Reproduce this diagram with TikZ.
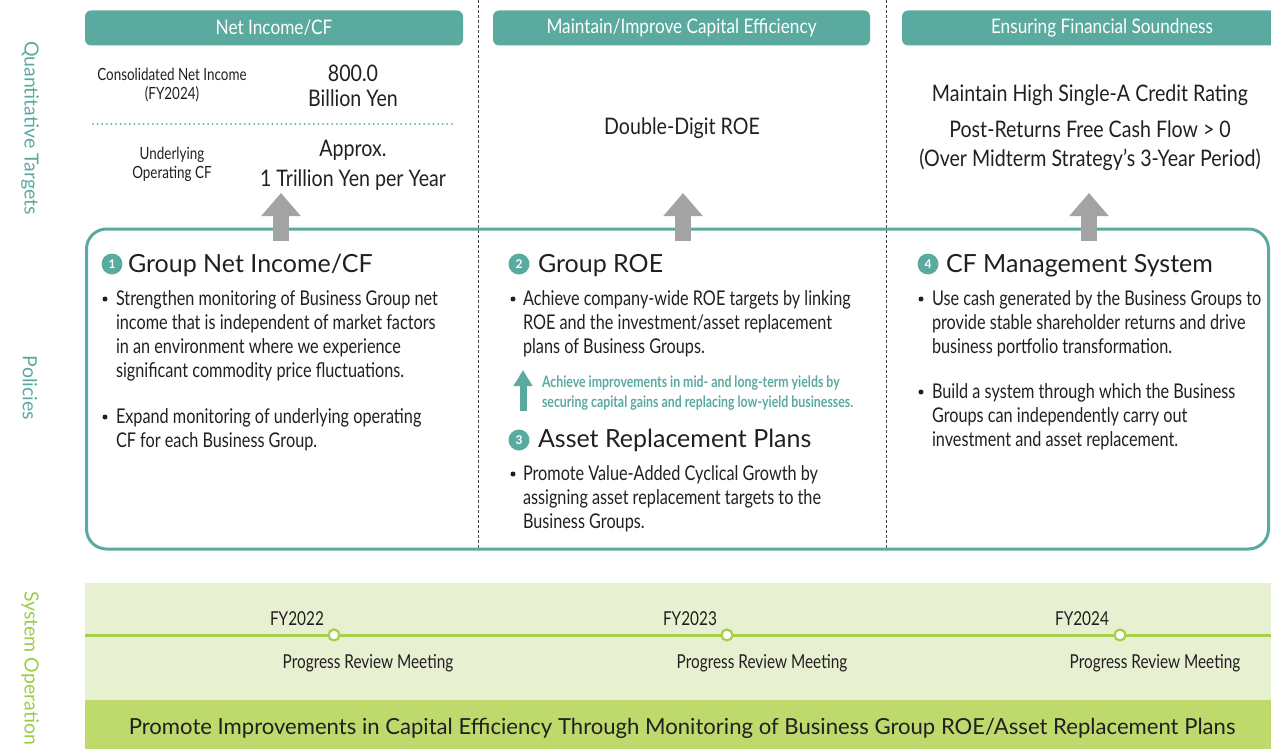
\documentclass[tikz,border=0pt]{standalone}
\usepackage{fontspec}
\setmainfont{Lato}
\newfontfamily\condfont[FakeStretch=0.80]{Lato}
\newfontfamily\semifont[FakeStretch=0.86]{Lato}
\newfontfamily\boldcond[FakeStretch=0.78]{Lato Bold}
\usetikzlibrary{arrows.meta}
\definecolor{tealc}{HTML}{5BAAA0}
\definecolor{txt}{HTML}{231F20}
\definecolor{gry}{HTML}{A3A3A3}
\definecolor{lgreen}{HTML}{E8F0D2}
\definecolor{dgreen}{HTML}{BED96C}
\definecolor{lineg}{HTML}{A8CF4C}
\definecolor{labg}{HTML}{9DCB4B}
\definecolor{dashc}{HTML}{444444}
\begin{document}
\begin{tikzpicture}[x=1pt,y=-1pt,
  every node/.style={inner sep=0pt, outer sep=0pt, text=txt},
  hdr/.style={fill=tealc, rounded corners=6pt, minimum height=35pt, text=white, font=\semifont\fontsize{20}{22}\selectfont},
  sidelab/.style={rotate=-90, font=\fontsize{19.5}{22}\selectfont},
  small/.style={font=\condfont\fontsize{16.8}{18}\selectfont},
  val/.style={font=\semifont\fontsize{22.8}{26}\selectfont},
  ttl/.style={font=\fontsize{25}{28}\selectfont, anchor=base west},
  body/.style={font=\condfont\fontsize{20.3}{24}\selectfont, align=left, anchor=base west},
  dotb/.style={circle, fill=txt, minimum size=5pt},
  numc/.style={circle, fill=tealc, minimum size=21pt, text=white, font=\bfseries\fontsize{12}{12}\selectfont},
  grayarrow/.style={gry, line width=16pt, -{Triangle[width=38pt,length=23pt]}},
  tealarrow/.style={tealc, line width=7pt, -{Triangle[width=18pt,length=16pt]}},
  dashline/.style={dashc, line width=1pt, dash pattern=on 3pt off 2pt},
  tlabel/.style={font=\condfont\fontsize{19.2}{22}\selectfont, anchor=base},
  tcirc/.style={circle, draw=lineg, line width=2.2pt, fill=white, minimum size=11pt}
]
\useasboundingbox (0,0) rectangle (1271,749);
\clip (0,0) rectangle (1271,749);

% side labels
\node[sidelab, text=tealc] (lq) at (30,128) {Quantitative Targets};
\node[sidelab, text=tealc] (lp) at (30,388) {Policies};
\node[sidelab, text=labg] (ls) at (30,668) {System Operation};

% dashed separators
\coordinate (d1t) at (478,0); \coordinate (d1b) at (478,550);
\coordinate (d2t) at (886,0); \coordinate (d2b) at (886,550);
\draw[dashline] (d1t) -- (d1b);
\draw[dashline] (d2t) -- (d2b);

% headers
\node[hdr, minimum width=378pt] (h1) at (274,28) {Net Income/CF};
\node[hdr, minimum width=377pt] (h2) at (681.5,28) {Maintain/Improve Capital Efficiency};
\node[hdr, minimum width=400pt] (h3) at (1102,28) {Ensuring Financial Soundness};

% column 1 targets
\node[small, anchor=base] (q1a) at (172,81) {Consolidated Net Income};
\node[small, anchor=base] (q1b) at (172,100) {(FY2024)};
\node[val, anchor=base] (v1a) at (353,82) {800.0};
\node[val, anchor=base] (v1b) at (353,107) {Billion Yen};
\coordinate (dl1) at (93,124); \coordinate (dl2) at (455,124);
\draw[tealc, line width=2pt, line cap=round, dash pattern=on 0pt off 4.6pt] (dl1) -- (dl2);
\node[small, anchor=base] (q2a) at (172,159) {Underlying};
\node[small, anchor=base] (q2b) at (172,178) {Operating CF};
\node[val, anchor=base] (v2a) at (353,157) {Approx.};
\node[val, anchor=base] (v2b) at (353,186) {1 Trillion Yen per Year};

% column 2 target
\node[val, anchor=base] (v3) at (682,135) {Double-Digit ROE};

% column 3 targets
\node[val, anchor=base] (v4a) at (1090,102) {Maintain High Single-A Credit Rating};
\node[val, anchor=base] (v4b) at (1090,138) {Post-Returns Free Cash Flow > 0};
\node[val, anchor=base] (v4c) at (1090,166) {(Over Midterm Strategy’s 3-Year Period)};

% policies frame
\node[draw=tealc, line width=3pt, rounded corners=20pt, minimum width=1182pt, minimum height=320pt] (pol) at (677.5,389) {};

% gray arrows
\coordinate (a1s) at (281,241); \coordinate (a1e) at (281,193);
\coordinate (a2s) at (683,241); \coordinate (a2e) at (683,193);
\coordinate (a3s) at (1089,241); \coordinate (a3e) at (1089,193);
\draw[grayarrow] (a1s) -- (a1e);
\draw[grayarrow] (a2s) -- (a2e);
\draw[grayarrow] (a3s) -- (a3e);

% section 1
\node[numc] (n1) at (112,264) {1};
\node[ttl] (t1) at (128,272) {Group Net Income/CF};
\node[dotb] (b1a) at (105,299) {};
\node[body] (p1a) at (116,377) {Strengthen monitoring of Business Group net\\income that is independent of market factors\\in an environment where we experience\\significant commodity price fluctuations.};
\node[dotb] (b1b) at (105,417) {};
\node[body] (p1b) at (116,447) {Expand monitoring of underlying operating\\CF for each Business Group.};

% section 2
\node[numc] (n2) at (519,264) {2};
\node[ttl] (t2) at (538,272) {Group ROE};
\node[dotb] (b2a) at (513,299) {};
\node[body] (p2a) at (523,353) {Achieve company-wide ROE targets by linking\\ROE and the investment/asset replacement\\plans of Business Groups.};
\coordinate (ta1) at (523,411); \coordinate (ta2) at (523,370);
\draw[tealarrow] (ta1) -- (ta2);
\node[font=\boldcond\fontsize{15.8}{20}\selectfont, text=tealc, align=left, anchor=base west] (g2) at (542,407) {Achieve improvements in mid- and long-term yields by\\securing capital gains and replacing low-yield businesses.};

% section 3
\node[numc] (n3) at (519,440) {3};
\node[ttl] (t3) at (538,447) {Asset Replacement Plans};
\node[dotb] (b3a) at (513,474) {};
\node[body] (p3a) at (523,528) {Promote Value-Added Cyclical Growth by\\assigning asset replacement targets to the\\Business Groups.};

% section 4
\node[numc] (n4) at (928,264) {4};
\node[ttl] (t4) at (946,272) {CF Management System};
\node[dotb] (b4a) at (921,299) {};
\node[body] (p4a) at (932,353) {Use cash generated by the Business Groups to\\provide stable shareholder returns and drive\\business portfolio transformation.};
\node[dotb] (b4b) at (921,392) {};
\node[body] (p4b) at (932,446) {Build a system through which the Business\\Groups can independently carry out\\investment and asset replacement.};

% system operation
\fill[lgreen] (85,583) rectangle (1271,700);
\fill[dgreen] (85,700) rectangle (1271,749);
\coordinate (tl1) at (85,635); \coordinate (tl2) at (1275,635);
\draw[lineg, line width=3pt] (tl1) -- (tl2);
\node[tcirc] (c1) at (334,635) {};
\node[tcirc] (c2) at (727,635) {};
\node[tcirc] (c3) at (1120,635) {};
\node[tlabel] (y1) at (297,625) {FY2022};
\node[tlabel] (y2) at (690,625) {FY2023};
\node[tlabel] (y3) at (1082,625) {FY2024};
\node[tlabel] (m1) at (368,668) {Progress Review Meeting};
\node[tlabel] (m2) at (762,668) {Progress Review Meeting};
\node[tlabel] (m3) at (1155,668) {Progress Review Meeting};
\node[font=\fontsize{22.1}{24}\selectfont, anchor=base] (bt) at (682,734) {Promote Improvements in Capital Efficiency Through Monitoring of Business Group ROE/Asset Replacement Plans};
\end{tikzpicture}
\end{document}
